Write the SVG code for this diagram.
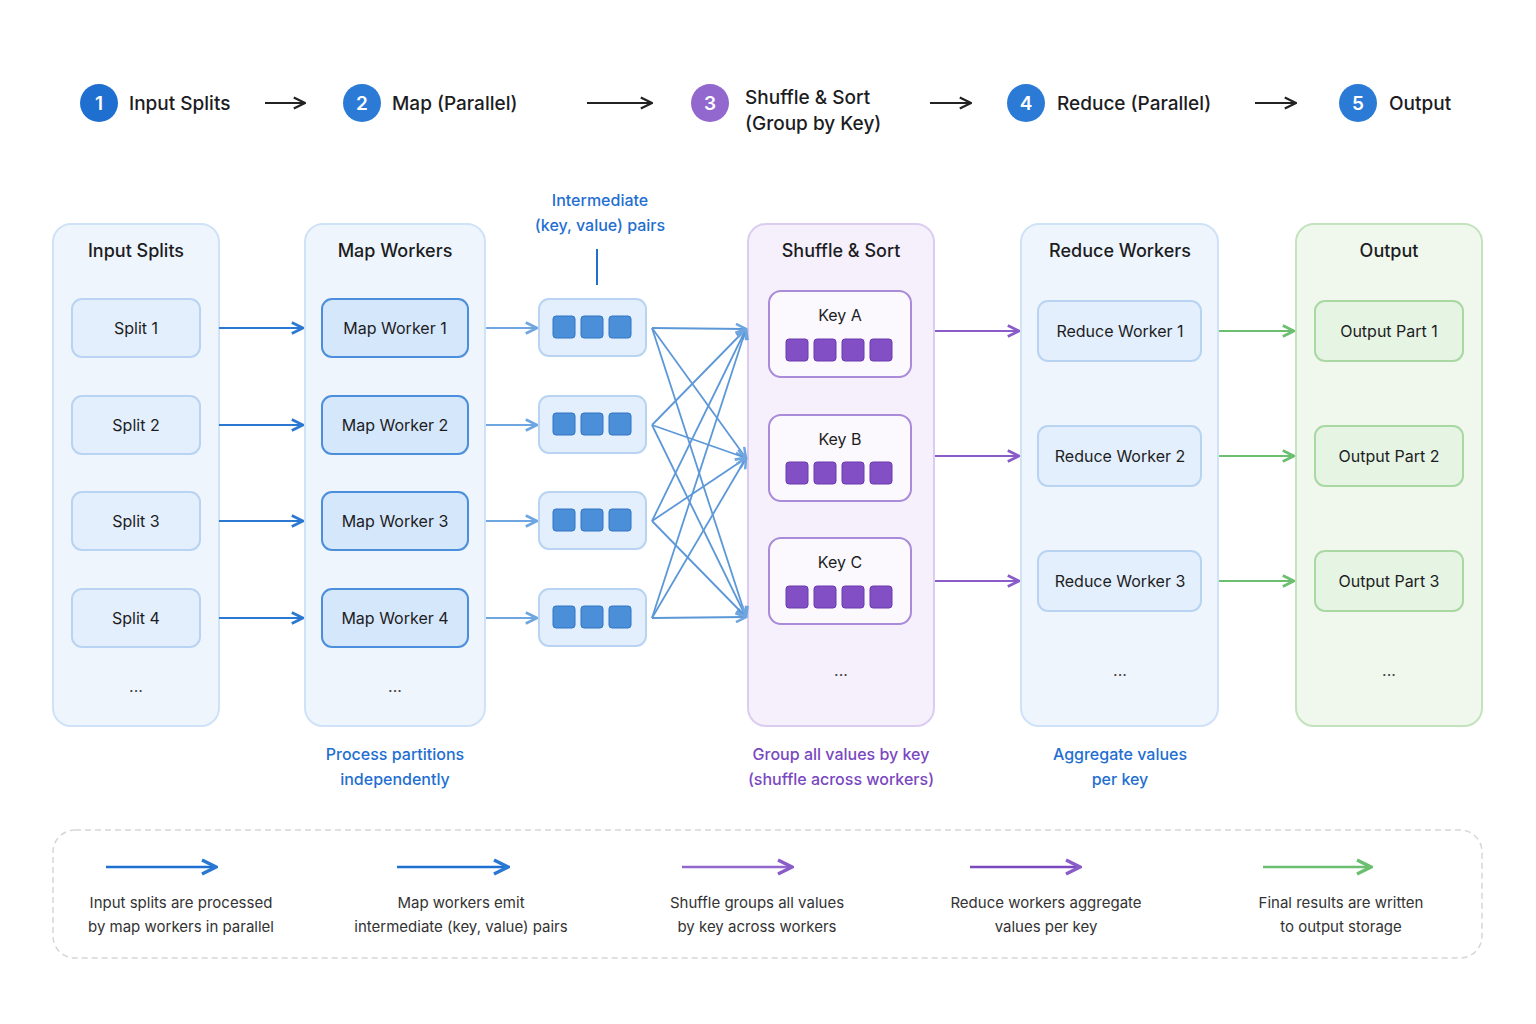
<svg xmlns="http://www.w3.org/2000/svg" width="1536" height="1024" viewBox="0 0 1536 1024">
<defs>
<style>
text{font-family:Inter,"Noto Sans","Liberation Sans",sans-serif;fill:#1d1d1f}
.step{font-size:19px;font-weight:500}
.ph{font-size:18px;font-weight:500;text-anchor:middle}
.nl{font-size:16px;text-anchor:middle}
.cap{font-size:16px;text-anchor:middle;font-weight:500}
.leg{font-size:15px;text-anchor:middle;fill:#333}
.dots{font-size:16px;text-anchor:middle;fill:#444}
.cn{font-size:19px;font-weight:600;fill:#fff;text-anchor:middle}
.pb{fill:#eef5fd;stroke:#cfe2f7;stroke-width:2}
.nb{fill:#e3effc;stroke:#b9d4f2;stroke-width:2}
.nm{fill:#d5e7fb;stroke:#4b8fdc;stroke-width:2}
.sq{fill:#4a8fd8;stroke:#2f74c3;stroke-width:1}
.ps{fill:#8250c4;stroke:#6a3aae;stroke-width:1}
</style>
<marker id="ab" viewBox="0 0 10 10" refX="9" refY="5" markerWidth="7" markerHeight="7" orient="auto"><path d="M1 1L9 5L1 9" fill="none" stroke="#2a78d2" stroke-width="2"/></marker>
<marker id="al" viewBox="0 0 10 10" refX="9" refY="5" markerWidth="7" markerHeight="7" orient="auto"><path d="M1 1L9 5L1 9" fill="none" stroke="#6fa6e0" stroke-width="2"/></marker>
<marker id="ap" viewBox="0 0 10 10" refX="9" refY="5" markerWidth="7" markerHeight="7" orient="auto"><path d="M1 1L9 5L1 9" fill="none" stroke="#8a5cc8" stroke-width="2"/></marker>
<marker id="ag" viewBox="0 0 10 10" refX="9" refY="5" markerWidth="7" markerHeight="7" orient="auto"><path d="M1 1L9 5L1 9" fill="none" stroke="#6cbf70" stroke-width="2"/></marker>
<marker id="ak" viewBox="0 0 10 10" refX="9" refY="5" markerWidth="7" markerHeight="7" orient="auto"><path d="M1 1L9 5L1 9" fill="none" stroke="#222" stroke-width="1.6"/></marker>
</defs>
<rect width="1536" height="1024" fill="#fff"/>

<g id="steps">
<circle cx="99" cy="103" r="19" fill="#1f6fd1"/><text class="cn" x="99" y="110">1</text><text class="step" x="129" y="110">Input Splits</text>
<circle cx="362" cy="103" r="19" fill="#2a7ad6"/><text class="cn" x="362" y="110">2</text><text class="step" x="392" y="110">Map (Parallel)</text>
<circle cx="710" cy="103" r="19" fill="#9268cf"/><text class="cn" x="710" y="110">3</text><text class="step" x="745" y="104">Shuffle &amp; Sort</text><text class="step" x="745" y="130">(Group by Key)</text>
<circle cx="1026" cy="103" r="19" fill="#2a7ad6"/><text class="cn" x="1026" y="110">4</text><text class="step" x="1057" y="110">Reduce (Parallel)</text>
<circle cx="1358" cy="103" r="19" fill="#2a7ad6"/><text class="cn" x="1358" y="110">5</text><text class="step" x="1389" y="110">Output</text>
<g stroke="#222" stroke-width="2" marker-end="url(#ak)">
<line x1="265" y1="103" x2="305" y2="103"/><line x1="587" y1="103" x2="652" y2="103"/><line x1="930" y1="103" x2="971" y2="103"/><line x1="1255" y1="103" x2="1296" y2="103"/>
</g>
</g>

<g id="input">
<rect class="pb" x="53" y="224" width="166" height="502" rx="18"/>
<text class="ph" x="136" y="257">Input Splits</text>
<rect class="nb" x="72" y="299" width="128" height="58" rx="10"/><text class="nl" x="136" y="334">Split 1</text>
<rect class="nb" x="72" y="396" width="128" height="58" rx="10"/><text class="nl" x="136" y="431">Split 2</text>
<rect class="nb" x="72" y="492" width="128" height="58" rx="10"/><text class="nl" x="136" y="527">Split 3</text>
<rect class="nb" x="72" y="589" width="128" height="58" rx="10"/><text class="nl" x="136" y="624">Split 4</text>
<text class="dots" x="136" y="692">...</text>
</g>

<g id="map">
<rect class="pb" x="305" y="224" width="180" height="502" rx="18"/>
<text class="ph" x="395" y="257">Map Workers</text>
<rect class="nm" x="322" y="299" width="146" height="58" rx="10"/><text class="nl" x="395" y="334">Map Worker 1</text>
<rect class="nm" x="322" y="396" width="146" height="58" rx="10"/><text class="nl" x="395" y="431">Map Worker 2</text>
<rect class="nm" x="322" y="492" width="146" height="58" rx="10"/><text class="nl" x="395" y="527">Map Worker 3</text>
<rect class="nm" x="322" y="589" width="146" height="58" rx="10"/><text class="nl" x="395" y="624">Map Worker 4</text>
<text class="dots" x="395" y="692">...</text>
<text class="cap" x="395" y="760" style="fill:#1f6fd1">Process partitions</text>
<text class="cap" x="395" y="785" style="fill:#1f6fd1">independently</text>
</g>

<g id="intermediate">
<text class="cap" x="600" y="206" style="fill:#1f6fd1">Intermediate</text>
<text class="cap" x="600" y="231" style="fill:#1f6fd1">(key, value) pairs</text>
<line x1="597" y1="249" x2="597" y2="285" stroke="#1f6fd1" stroke-width="2"/>
<g>
<rect class="nb" x="539" y="299" width="107" height="57" rx="10"/>
<rect class="sq" x="553" y="316" width="22" height="22" rx="3"/><rect class="sq" x="581" y="316" width="22" height="22" rx="3" fill="#5597dc"/><rect class="sq" x="609" y="316" width="22" height="22" rx="3" fill="#65a2e0"/>
</g>
<g>
<rect class="nb" x="539" y="396" width="107" height="57" rx="10"/>
<rect class="sq" x="553" y="413" width="22" height="22" rx="3"/><rect class="sq" x="581" y="413" width="22" height="22" rx="3" fill="#5597dc"/><rect class="sq" x="609" y="413" width="22" height="22" rx="3" fill="#65a2e0"/>
</g>
<g>
<rect class="nb" x="539" y="492" width="107" height="57" rx="10"/>
<rect class="sq" x="553" y="509" width="22" height="22" rx="3"/><rect class="sq" x="581" y="509" width="22" height="22" rx="3" fill="#5597dc"/><rect class="sq" x="609" y="509" width="22" height="22" rx="3" fill="#65a2e0"/>
</g>
<g>
<rect class="nb" x="539" y="589" width="107" height="57" rx="10"/>
<rect class="sq" x="553" y="606" width="22" height="22" rx="3"/><rect class="sq" x="581" y="606" width="22" height="22" rx="3" fill="#5597dc"/><rect class="sq" x="609" y="606" width="22" height="22" rx="3" fill="#65a2e0"/>
</g>
</g>

<g id="shuffle">
<rect x="748" y="224" width="186" height="502" rx="18" fill="#f5f0fb" stroke="#dccdf0" stroke-width="2"/>
<text class="ph" x="841" y="257">Shuffle &amp; Sort</text>
<g>
<rect x="769" y="291" width="142" height="86" rx="12" fill="#fbf9fe" stroke="#a98bd9" stroke-width="2"/>
<text class="nl" x="840" y="321">Key A</text>
<rect class="ps" x="786" y="339" width="22" height="22" rx="3"/><rect class="ps" x="814" y="339" width="22" height="22" rx="3"/><rect class="ps" x="842" y="339" width="22" height="22" rx="3"/><rect class="ps" x="870" y="339" width="22" height="22" rx="3"/>
</g>
<g>
<rect x="769" y="415" width="142" height="86" rx="12" fill="#fbf9fe" stroke="#a98bd9" stroke-width="2"/>
<text class="nl" x="840" y="445">Key B</text>
<rect class="ps" x="786" y="462" width="22" height="22" rx="3"/><rect class="ps" x="814" y="462" width="22" height="22" rx="3"/><rect class="ps" x="842" y="462" width="22" height="22" rx="3"/><rect class="ps" x="870" y="462" width="22" height="22" rx="3"/>
</g>
<g>
<rect x="769" y="538" width="142" height="86" rx="12" fill="#fbf9fe" stroke="#a98bd9" stroke-width="2"/>
<text class="nl" x="840" y="568">Key C</text>
<rect class="ps" x="786" y="586" width="22" height="22" rx="3"/><rect class="ps" x="814" y="586" width="22" height="22" rx="3"/><rect class="ps" x="842" y="586" width="22" height="22" rx="3"/><rect class="ps" x="870" y="586" width="22" height="22" rx="3"/>
</g>
<text class="dots" x="841" y="676">...</text>
<text class="cap" x="841" y="760" style="fill:#7a48bf">Group all values by key</text>
<text class="cap" x="841" y="785" style="fill:#7a48bf">(shuffle across workers)</text>
</g>

<g id="reduce">
<rect class="pb" x="1021" y="224" width="197" height="502" rx="18"/>
<text class="ph" x="1120" y="257">Reduce Workers</text>
<rect class="nb" x="1038" y="301" width="163" height="60" rx="10"/><text class="nl" x="1120" y="337">Reduce Worker 1</text>
<rect class="nb" x="1038" y="426" width="163" height="60" rx="10"/><text class="nl" x="1120" y="462">Reduce Worker 2</text>
<rect class="nb" x="1038" y="551" width="163" height="60" rx="10"/><text class="nl" x="1120" y="587">Reduce Worker 3</text>
<text class="dots" x="1120" y="676">...</text>
<text class="cap" x="1120" y="760" style="fill:#1f6fd1">Aggregate values</text>
<text class="cap" x="1120" y="785" style="fill:#1f6fd1">per key</text>
</g>

<g id="output">
<rect x="1296" y="224" width="186" height="502" rx="18" fill="#f0f8ee" stroke="#c3e3bd" stroke-width="2"/>
<text class="ph" x="1389" y="257">Output</text>
<rect x="1315" y="301" width="148" height="60" rx="10" fill="#e6f4e3" stroke="#a9d8a3" stroke-width="2"/><text class="nl" x="1389" y="337">Output Part 1</text>
<rect x="1315" y="426" width="148" height="60" rx="10" fill="#e6f4e3" stroke="#a9d8a3" stroke-width="2"/><text class="nl" x="1389" y="462">Output Part 2</text>
<rect x="1315" y="551" width="148" height="60" rx="10" fill="#e6f4e3" stroke="#a9d8a3" stroke-width="2"/><text class="nl" x="1389" y="587">Output Part 3</text>
<text class="dots" x="1389" y="676">...</text>
</g>

<g id="connectors" fill="none" stroke-width="2">
<g stroke="#2a78d2" marker-end="url(#ab)">
<line x1="219" y1="328" x2="303" y2="328"/><line x1="219" y1="425" x2="303" y2="425"/><line x1="219" y1="521" x2="303" y2="521"/><line x1="219" y1="618" x2="303" y2="618"/>
</g>
<g stroke="#6fa6e0" marker-end="url(#al)">
<line x1="486" y1="328" x2="537" y2="328"/><line x1="486" y1="425" x2="537" y2="425"/><line x1="486" y1="521" x2="537" y2="521"/><line x1="486" y1="618" x2="537" y2="618"/>
</g>
<g stroke="#5c98d8" stroke-width="1.8" marker-end="url(#al)">
<line x1="652" y1="328" x2="746" y2="329"/><line x1="652" y1="328" x2="746" y2="458"/><line x1="652" y1="328" x2="746" y2="617"/>
<line x1="652" y1="425" x2="746" y2="329"/><line x1="652" y1="425" x2="746" y2="458"/><line x1="652" y1="425" x2="746" y2="617"/>
<line x1="652" y1="521" x2="746" y2="329"/><line x1="652" y1="521" x2="746" y2="458"/><line x1="652" y1="521" x2="746" y2="617"/>
<line x1="652" y1="618" x2="746" y2="329"/><line x1="652" y1="618" x2="746" y2="458"/><line x1="652" y1="618" x2="746" y2="617"/>
</g>
<g stroke="#8a5cc8" marker-end="url(#ap)">
<line x1="935" y1="331" x2="1019" y2="331"/><line x1="935" y1="456" x2="1019" y2="456"/><line x1="935" y1="581" x2="1019" y2="581"/>
</g>
<g stroke="#6cbf70" marker-end="url(#ag)">
<line x1="1219" y1="331" x2="1294" y2="331"/><line x1="1219" y1="456" x2="1294" y2="456"/><line x1="1219" y1="581" x2="1294" y2="581"/>
</g>
</g>

<g id="legend">
<rect x="53" y="830" width="1429" height="128" rx="22" fill="none" stroke="#d6d6d6" stroke-width="1.5" stroke-dasharray="6 4"/>
<g stroke-width="2.5" fill="none">
<line x1="106" y1="867" x2="216" y2="867" stroke="#1f6fd1" marker-end="url(#ab)"/>
<line x1="397" y1="867" x2="508" y2="867" stroke="#1f6fd1" marker-end="url(#ab)"/>
<line x1="682" y1="867" x2="792" y2="867" stroke="#9268cf" marker-end="url(#ap)"/>
<line x1="970" y1="867" x2="1080" y2="867" stroke="#7a48bf" marker-end="url(#ap)"/>
<line x1="1263" y1="867" x2="1371" y2="867" stroke="#6cbf70" marker-end="url(#ag)"/>
</g>
<text class="leg" x="181" y="908">Input splits are processed</text><text class="leg" x="181" y="932">by map workers in parallel</text>
<text class="leg" x="461" y="908">Map workers emit</text><text class="leg" x="461" y="932">intermediate (key, value) pairs</text>
<text class="leg" x="757" y="908">Shuffle groups all values</text><text class="leg" x="757" y="932">by key across workers</text>
<text class="leg" x="1046" y="908">Reduce workers aggregate</text><text class="leg" x="1046" y="932">values per key</text>
<text class="leg" x="1341" y="908">Final results are written</text><text class="leg" x="1341" y="932">to output storage</text>
</g>
</svg>
